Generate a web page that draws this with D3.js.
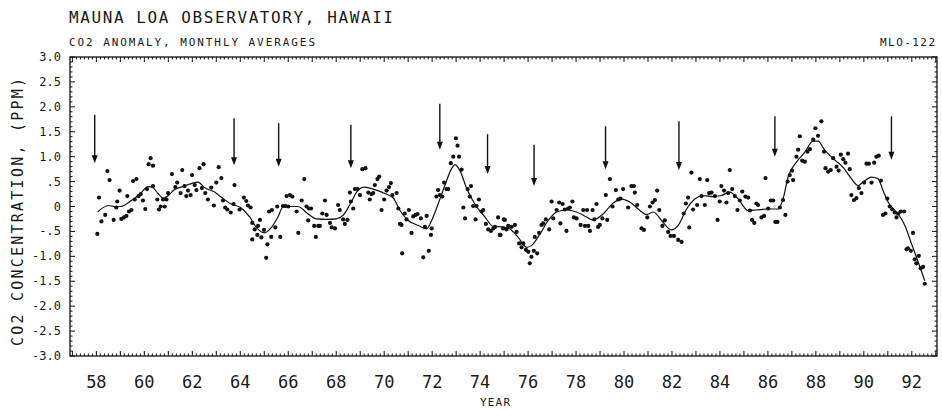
<!DOCTYPE html>
<html>
<head>
<meta charset="utf-8">
<script src="https://cdn.jsdelivr.net/npm/d3@7"></script>
<style>
  body { margin: 0; background: #fff; }
  svg text { font-family: "DejaVu Sans Mono", monospace; fill: #1a1a1a; }
</style>
</head>
<body>
<div id="chart"></div>
<script>
// monthly CO2 anomaly readings [year, ppm]
var monthly = [
  [58.04,-0.55],[58.11,0.18],[58.21,-0.30],[58.37,-0.17],[58.46,0.71],[58.55,0.53],[58.72,-0.27],[58.83,-0.02],
  [58.87,0.10],[58.97,0.32],[59.04,-0.25],[59.15,-0.22],[59.25,-0.19],[59.29,0.21],[59.36,-0.10],[59.46,-0.07],
  [59.53,0.51],[59.60,0.14],[59.67,0.55],[59.76,0.21],[59.85,0.25],[59.94,0.12],[60.04,-0.05],[60.11,0.35],
  [60.18,0.85],[60.26,0.97],[60.36,0.82],[60.36,0.41],[60.54,0.14],[60.61,-0.06],[60.68,0.00],[60.78,0.14],
  [60.85,0.00],[60.92,0.14],[60.99,0.27],[61.15,0.65],[61.29,0.39],[61.37,0.48],[61.51,0.27],[61.58,0.73],
  [61.68,0.41],[61.75,0.21],[61.82,0.32],[61.93,0.23],[61.99,0.63],[62.10,0.43],[62.17,0.33],[62.30,0.77],
  [62.40,0.37],[62.47,0.85],[62.54,0.27],[62.65,0.14],[62.79,0.38],[62.90,0.02],[63.00,0.48],[63.10,0.79],
  [63.21,0.57],[63.28,0.12],[63.37,-0.02],[63.46,-0.06],[63.60,-0.12],[63.72,0.05],[63.76,0.43],[63.97,-0.06],
  [64.15,0.18],[64.25,0.11],[64.32,0.02],[64.43,-0.02],[64.50,-0.33],[64.50,-0.66],[64.60,-0.46],[64.71,-0.57],
  [64.74,-0.39],[64.82,-0.27],[64.88,-0.62],[64.99,-0.47],[65.08,-1.03],[65.13,-0.76],[65.20,-0.10],[65.29,-0.61],
  [65.32,-0.07],[65.46,-0.42],[65.54,0.00],[65.67,-0.61],[65.78,0.01],[65.88,0.01],[65.93,0.21],[66.00,0.00],
  [66.07,0.23],[66.17,0.20],[66.35,-0.10],[66.42,-0.53],[66.56,0.12],[66.67,0.55],[66.76,0.00],[66.83,-0.28],
  [66.86,-0.04],[66.95,-0.04],[67.08,-0.39],[67.15,-0.61],[67.25,-0.39],[67.32,-0.39],[67.42,-0.14],[67.53,0.12],
  [67.60,-0.17],[67.74,-0.33],[67.81,-0.42],[67.95,-0.44],[68.08,0.03],[68.15,-0.07],[68.29,-0.26],[68.36,-0.35],
  [68.47,-0.27],[68.57,0.28],[68.61,0.10],[68.71,-0.04],[68.78,0.35],[68.89,0.35],[68.99,0.23],[69.09,0.75],
  [69.22,0.77],[69.34,0.28],[69.40,0.14],[69.47,0.25],[69.54,0.27],[69.61,0.43],[69.72,0.55],[69.79,0.60],
  [69.89,-0.07],[70.00,0.14],[70.10,0.32],[70.20,0.39],[70.28,0.47],[70.34,0.23],[70.52,0.27],[70.59,-0.04],
  [70.66,-0.35],[70.72,-0.37],[70.75,-0.94],[70.86,-0.14],[70.93,-0.26],[71.03,-0.07],[71.14,-0.53],[71.21,-0.20],
  [71.31,-0.17],[71.39,-0.15],[71.53,-0.24],[71.63,-1.02],[71.70,-0.41],[71.77,-0.19],[71.86,-0.89],[71.95,-0.57],
  [71.98,-0.44],[72.18,0.20],[72.25,0.33],[72.32,0.23],[72.42,0.20],[72.50,0.48],[72.60,0.35],[72.67,0.35],
  [72.78,0.87],[72.88,1.00],[72.99,1.37],[73.06,1.22],[73.12,1.00],[73.23,0.74],[73.30,-0.02],[73.37,-0.24],
  [73.48,0.35],[73.57,0.20],[73.62,0.41],[73.71,0.01],[73.81,-0.26],[73.85,0.01],[73.95,0.14],[74.06,-0.10],
  [74.13,-0.07],[74.24,-0.35],[74.34,-0.46],[74.45,-0.49],[74.55,-0.44],[74.62,-0.41],[74.75,-0.22],[74.82,-0.57],
  [74.85,-0.57],[74.96,-0.44],[74.99,-0.26],[75.03,-0.27],[75.10,-0.46],[75.17,-0.39],[75.31,-0.41],[75.45,-0.37],
  [75.52,-0.51],[75.63,-0.74],[75.73,-0.82],[75.80,-0.74],[75.91,-0.87],[76.01,-0.91],[76.07,-1.14],[76.14,-1.01],
  [76.24,-0.89],[76.28,-0.61],[76.38,-0.94],[76.46,-0.53],[76.56,-0.37],[76.63,-0.34],[76.74,-0.26],[76.88,-0.46],
  [76.98,0.10],[77.05,-0.24],[77.19,-0.07],[77.30,0.08],[77.35,-0.34],[77.44,0.05],[77.53,-0.06],[77.60,-0.49],
  [77.67,-0.04],[77.74,-0.02],[77.85,0.10],[77.91,-0.22],[78.02,-0.24],[78.19,-0.37],[78.30,-0.07],[78.37,-0.39],
  [78.46,-0.07],[78.51,-0.39],[78.58,-0.49],[78.69,-0.07],[78.76,-0.26],[78.85,0.05],[78.92,-0.41],[78.99,-0.37],
  [79.10,-0.24],[79.24,0.23],[79.30,-0.27],[79.41,0.55],[79.52,0.00],[79.66,0.33],[79.76,0.14],[79.85,0.16],
  [79.96,0.35],[80.17,-0.02],[80.31,0.41],[80.41,0.41],[80.45,0.28],[80.55,0.03],[80.73,-0.44],[80.83,-0.47],
  [80.97,-0.22],[81.08,0.00],[81.19,0.08],[81.29,0.13],[81.38,0.32],[81.47,-0.07],[81.60,-0.39],[81.70,-0.28],
  [81.84,-0.51],[81.94,-0.59],[82.08,-0.59],[82.26,-0.67],[82.40,-0.71],[82.49,-0.14],[82.58,0.06],[82.67,0.18],
  [82.72,-0.42],[82.81,0.68],[82.88,-0.06],[83.05,0.03],[83.16,0.55],[83.23,0.21],[83.37,0.03],[83.47,0.53],
  [83.55,0.27],[83.65,0.28],[83.79,0.21],[83.90,-0.27],[83.99,0.10],[84.06,0.41],[84.17,0.32],[84.27,0.08],
  [84.34,0.27],[84.41,0.73],[84.51,0.35],[84.62,0.21],[84.73,-0.07],[84.83,0.12],[84.93,0.30],[85.06,0.20],
  [85.18,0.18],[85.25,-0.08],[85.34,-0.27],[85.43,-0.33],[85.52,0.06],[85.59,0.03],[85.73,-0.22],[85.84,-0.19],
  [85.90,0.57],[86.01,-0.04],[86.12,0.12],[86.22,0.12],[86.31,-0.31],[86.40,-0.31],[86.50,-0.02],[86.63,0.13],
  [86.73,-0.17],[86.82,0.50],[86.91,0.63],[87.01,0.72],[87.05,0.53],[87.19,1.00],[87.26,1.14],[87.33,1.41],
  [87.43,0.92],[87.54,0.90],[87.65,1.10],[87.75,1.15],[87.89,1.34],[87.98,1.57],[88.09,1.42],[88.23,1.71],
  [88.34,1.10],[88.40,0.77],[88.51,0.70],[88.62,0.73],[88.72,0.97],[88.86,0.80],[88.95,0.72],[89.04,1.04],
  [89.14,0.95],[89.23,0.88],[89.34,1.06],[89.41,0.75],[89.48,0.23],[89.59,0.13],[89.69,0.17],[89.79,0.37],
  [89.90,0.27],[90.01,0.48],[90.11,0.86],[90.21,0.86],[90.32,0.48],[90.43,0.88],[90.52,1.00],[90.62,1.02],
  [90.71,0.52],[90.80,-0.17],[90.90,-0.14],[90.98,0.16],[91.08,0.00],[91.18,-0.06],[91.29,-0.12],[91.36,-0.22],
  [91.43,-0.14],[91.54,-0.10],[91.68,-0.10],[91.78,-0.86],[91.84,-0.84],[91.96,-0.89],[92.05,-0.53],[92.12,-1.06],
  [92.19,-1.14],[92.29,-0.99],[92.37,-1.24],[92.47,-1.21],[92.54,-1.55]
];

// smoothed curve [year, ppm]
var smooth = [
  [58.05,-0.11],[58.5,0.02],[58.75,0.0],[59.0,0.0],[59.46,0.12],[59.8,0.24],[60.15,0.40],[60.35,0.38],
  [60.57,0.26],[60.78,0.17],[60.95,0.20],[61.26,0.34],[61.6,0.40],[61.96,0.46],[62.24,0.49],[62.5,0.38],
  [62.93,0.29],[63.2,0.19],[63.62,0.05],[64.04,-0.03],[64.39,-0.21],[64.67,-0.42],[65.0,-0.53],[65.3,-0.42],
  [65.57,-0.21],[65.78,-0.01],[66.0,0.0],[66.4,0.0],[66.83,-0.15],[67.18,-0.25],[67.6,-0.26],[68.0,-0.25],
  [68.3,-0.17],[68.64,0.10],[68.85,0.29],[69.17,0.39],[69.6,0.34],[70.03,0.26],[70.38,0.17],[70.66,-0.08],
  [71.0,-0.28],[71.42,-0.38],[71.77,-0.45],[71.98,-0.28],[72.25,0.05],[72.53,0.42],[72.81,0.76],[72.95,0.84],
  [73.16,0.72],[73.44,0.36],[73.78,0.05],[74.2,-0.21],[74.55,-0.40],[74.9,-0.41],[75.24,-0.45],[75.59,-0.62],
  [75.94,-0.82],[76.15,-0.78],[76.5,-0.55],[76.84,-0.28],[77.19,-0.11],[77.6,-0.07],[78.02,-0.11],[78.44,-0.21],
  [78.71,-0.27],[79.13,-0.15],[79.55,0.07],[79.9,0.15],[80.24,0.09],[80.59,-0.05],[80.94,-0.16],[81.22,-0.11],
  [81.63,-0.32],[81.98,-0.47],[82.26,-0.38],[82.61,-0.05],[82.95,0.15],[83.3,0.22],[83.72,0.20],[84.06,0.22],
  [84.41,0.29],[84.76,0.15],[85.17,-0.08],[85.52,-0.07],[86.01,-0.05],[86.43,-0.05],[86.63,0.15],[86.84,0.59],
  [87.19,0.89],[87.54,1.09],[87.88,1.31],[88.09,1.31],[88.37,1.13],[88.72,0.96],[89.13,0.79],[89.48,0.56],
  [89.76,0.42],[89.97,0.49],[90.32,0.59],[90.59,0.56],[90.8,0.32],[91.01,0.09],[91.29,-0.08],[91.5,-0.2],
  [91.71,-0.38],[91.99,-0.75],[92.27,-1.12],[92.54,-1.49]
];

// event arrows: year, top value, tip value
var arrowYears = [57.93, 63.74, 65.60, 68.61, 72.32, 74.31, 76.25, 79.23, 82.29, 86.29, 91.15];
var arrowTops  = [1.84, 1.77, 1.67, 1.64, 2.06, 1.45, 1.24, 1.61, 1.71, 1.81, 1.81];
var arrowTips  = [0.87, 0.83, 0.80, 0.77, 1.14, 0.65, 0.41, 0.75, 0.73, 1.00, 0.94];

var xTickYears = [58, 60, 62, 64, 66, 68, 70, 72, 74, 76, 78, 80, 82, 84, 86, 88, 90, 92];
var yTickValues = [3, 2.5, 2, 1.5, 1, 0.5, 0, -0.5, -1, -1.5, -2, -2.5, -3];
var yTickLabels = ["3.0", "2.5", "2.0", "1.5", "1.0", ".5", "0", "-.5", "-1.0", "-1.5", "-2.0", "-2.5", "-3.0"];

(function () {
    var W = 942, H = 410;
    var pL = 70, pR = 937, pT = 57, pB = 356;

    var svg = d3.select("#chart").append("svg")
        .attr("width", W)
        .attr("height", H);

    var x = d3.scaleLinear().domain([56.9, 93.05]).range([pL, pR]);
    var y = d3.scaleLinear().domain([-3, 3]).range([pB, pT]);

    // frame
    svg.append("rect")
        .attr("x", pL).attr("y", pT)
        .attr("width", pR - pL).attr("height", pB - pT)
        .attr("fill", "none").attr("stroke", "#111").attr("stroke-width", 1.3);

    // inward ticks on all sides
    var g = svg.append("g").attr("stroke", "#111").attr("stroke-width", 1);
    d3.range(57, 93.01, 1 / 6).forEach(function (t) {
        var major = Math.abs(t - Math.round(t)) < 0.01;
        var len = major ? 5 : 2.5;
        if (x(t) < pL || x(t) > pR) return;
        g.append("line").attr("x1", x(t)).attr("x2", x(t)).attr("y1", pT).attr("y2", pT + len);
        g.append("line").attr("x1", x(t)).attr("x2", x(t)).attr("y1", pB).attr("y2", pB - len);
    });
    d3.range(-30, 31).forEach(function (i) {
        var v = i / 10;
        var len = i % 5 === 0 ? 5 : 2.5;
        g.append("line").attr("x1", pL).attr("x2", pL + len).attr("y1", y(v)).attr("y2", y(v));
        g.append("line").attr("x1", pR).attr("x2", pR - len).attr("y1", y(v)).attr("y2", y(v));
    });

    // tick labels
    svg.append("g").selectAll("text")
        .data(xTickYears)
        .enter()
        .append("text")
        .attr("x", function (d) { return x(d); })
        .attr("y", 388)
        .attr("text-anchor", "middle")
        .style("font-size", "17px")
        .text(function (d) { return d; });

    svg.append("g").selectAll("text")
        .data(yTickValues)
        .enter()
        .append("text")
        .attr("x", 61)
        .attr("y", function (d) { return y(d) + 4; })
        .attr("text-anchor", "end")
        .style("font-size", "12px")
        .text(function (d, i) { return yTickLabels[i]; });

    // titles (plotter lettering is wide, so stretch to the measured widths)
    svg.append("text").attr("x", 69).attr("y", 23).style("font-size", "16px")
        .attr("textLength", 324).attr("lengthAdjust", "spacing")
        .text("MAUNA LOA OBSERVATORY, HAWAII");
    svg.append("text").attr("x", 69).attr("y", 46).style("font-size", "11px")
        .attr("textLength", 246).attr("lengthAdjust", "spacing")
        .text("CO2 ANOMALY, MONTHLY AVERAGES");
    svg.append("text").attr("x", 880).attr("y", 46).style("font-size", "11px")
        .attr("textLength", 55).attr("lengthAdjust", "spacing")
        .text("MLO-122");
    svg.append("text").attr("x", 480).attr("y", 406).style("font-size", "11px")
        .attr("textLength", 30).attr("lengthAdjust", "spacing")
        .text("YEAR");
    svg.append("text")
        .attr("transform", "translate(23,212) rotate(-90)")
        .attr("x", -134)
        .attr("textLength", 268).attr("lengthAdjust", "spacing")
        .style("font-size", "15px")
        .text("CO2 CONCENTRATION, (PPM)");

    // smooth curve
    var line = d3.line()
        .x(function (d) { return x(d[0]); })
        .y(function (d) { return y(d[1]); })
        .curve(d3.curveMonotoneX);
    svg.append("path")
        .datum(smooth)
        .attr("d", line)
        .attr("fill", "none")
        .attr("stroke", "#111")
        .attr("stroke-width", 1.2);

    // monthly dots
    svg.append("g").selectAll("circle")
        .data(monthly)
        .enter()
        .append("circle")
        .attr("cx", function (d) { return x(d[0]); })
        .attr("cy", function (d) { return y(d[1]); })
        .attr("r", 2.1)
        .attr("fill", "#111");

    // arrows
    var ag = svg.append("g");
    arrowYears.forEach(function (yr, i) {
        var ax = x(yr), y1 = y(arrowTops[i]), y2 = y(arrowTips[i]);
        ag.append("line")
            .attr("x1", ax).attr("x2", ax).attr("y1", y1).attr("y2", y2 - 6)
            .attr("stroke", "#111").attr("stroke-width", 1.4);
        ag.append("path")
            .attr("d", "M" + (ax - 3) + "," + (y2 - 8) + "L" + (ax + 3) + "," + (y2 - 8) + "L" + ax + "," + y2 + "Z")
            .attr("fill", "#111");
    });
})();
</script>
</body>
</html>
